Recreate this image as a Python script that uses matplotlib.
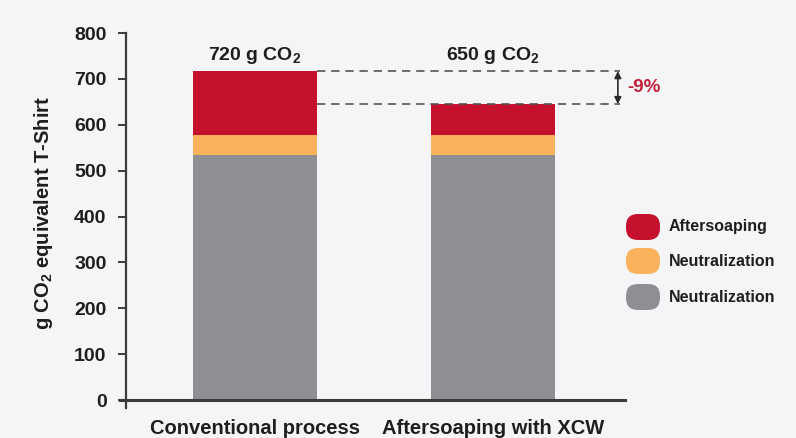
import matplotlib
matplotlib.use("Agg")
import matplotlib.pyplot as plt
from matplotlib.patches import FancyBboxPatch
import numpy as np

plt.rcParams['font.family'] = ['Liberation Sans', 'DejaVu Sans']
plt.rcParams['font.weight'] = 'bold'
plt.rcParams['mathtext.default'] = 'regular'

# ---- data ----
categories = ["Conventional process", "Aftersoaping with XCW"]
series_labels = ["Neutralization", "Neutralization", "Aftersoaping"]  # bottom -> top
gray_vals = [535, 535]
orange_vals = [42, 42]
red_vals = [140, 68]
total_labels = ["720 g CO$_2$", "650 g CO$_2$"]
change_label = "-9%"
yticks = [0, 100, 200, 300, 400, 500, 600, 700, 800]

colors = {"red": "#c5112d", "orange": "#fbb25c", "gray": "#8d8f92"}
text_col = "#1e1e1e"
axis_col = "#3a3a3a"
bg = "#f5f5f7"

fig = plt.figure(figsize=(7.96, 4.38), dpi=100, facecolor=bg)
ax = fig.add_axes([120/796, 30/438, 505/796, 375/438])
ax.set_facecolor(bg)

x = np.arange(len(categories))
w = 0.521
ax.bar(x, gray_vals, w, color=colors["gray"], zorder=2)
ax.bar(x, orange_vals, w, bottom=gray_vals, color=colors["orange"], zorder=2)
bottoms2 = np.array(gray_vals) + np.array(orange_vals)
ax.bar(x, red_vals, w, bottom=bottoms2, color=colors["red"], zorder=2)
totals = bottoms2 + np.array(red_vals)

ax.set_xlim(-0.567, 1.555)
ax.set_ylim(-17.4, 800)

for s in ["top", "right"]:
    ax.spines[s].set_visible(False)
ax.spines["left"].set_position(("data", -0.542))
ax.spines["bottom"].set_position(("data", 0))
for s in ["left", "bottom"]:
    ax.spines[s].set_color(axis_col)
ax.spines["left"].set_linewidth(1.6)
ax.spines["bottom"].set_linewidth(2.2)

ax.set_yticks(yticks)
ax.set_yticklabels([str(v) for v in yticks])
ax.tick_params(axis="y", direction="out", length=6, width=1.4, color=axis_col,
               pad=8, labelsize=14, labelcolor=text_col)
ax.set_xticks(x)
ax.set_xticklabels(categories)
ax.tick_params(axis="x", length=0, pad=13.5, labelsize=14.5, labelcolor=text_col)

ax.set_ylabel("g CO$_2$ equivalent T-Shirt", fontsize=14.5, color=text_col, fontweight="bold")
ax.yaxis.set_label_coords(-0.129, 0.52)

# total labels
for xi, lab in zip(x, total_labels):
    ax.text(xi, 752, lab, ha="center", va="center", fontsize=14, color=text_col,
            fontweight="bold")

# dashed reference lines
x0 = x[0] + w / 2
x1 = 1.534
for t in totals:
    ax.plot([x0, x1], [t, t], ls=(0, (5, 3.5)), lw=1.2, color="#555555",
            zorder=3, clip_on=False)
ax.annotate("", xy=(1.525, totals[1]), xytext=(1.525, totals[0]),
            arrowprops=dict(arrowstyle="<|-|>", color="#2a2a2a", lw=1.2,
                            mutation_scale=10, shrinkA=0, shrinkB=0),
            annotation_clip=False)
ax.text(1.563, (totals[0] + totals[1]) / 2, change_label, ha="left", va="center",
        fontsize=13.5, color="#c0203a", fontweight="bold", clip_on=False)

# legend (manual, figure inches)
leg_items = [("Aftersoaping", colors["red"]),
             ("Neutralization", colors["orange"]),
             ("Neutralization", colors["gray"])]
leg_y = [227, 261, 297]
for (lab, c), yc in zip(leg_items, leg_y):
    yf = 438 - yc
    patch = FancyBboxPatch((6.26, (yf - 13) / 100), 0.34, 0.26,
                           boxstyle="round,pad=0,rounding_size=0.12",
                           transform=fig.dpi_scale_trans, facecolor=c,
                           edgecolor="none")
    fig.patches.append(patch)
    fig.text(669 / 796, yf / 438, lab, ha="left", va="center", fontsize=11.5,
             color=text_col, fontweight="bold")

fig.savefig("out.png", dpi=100, facecolor=bg)
